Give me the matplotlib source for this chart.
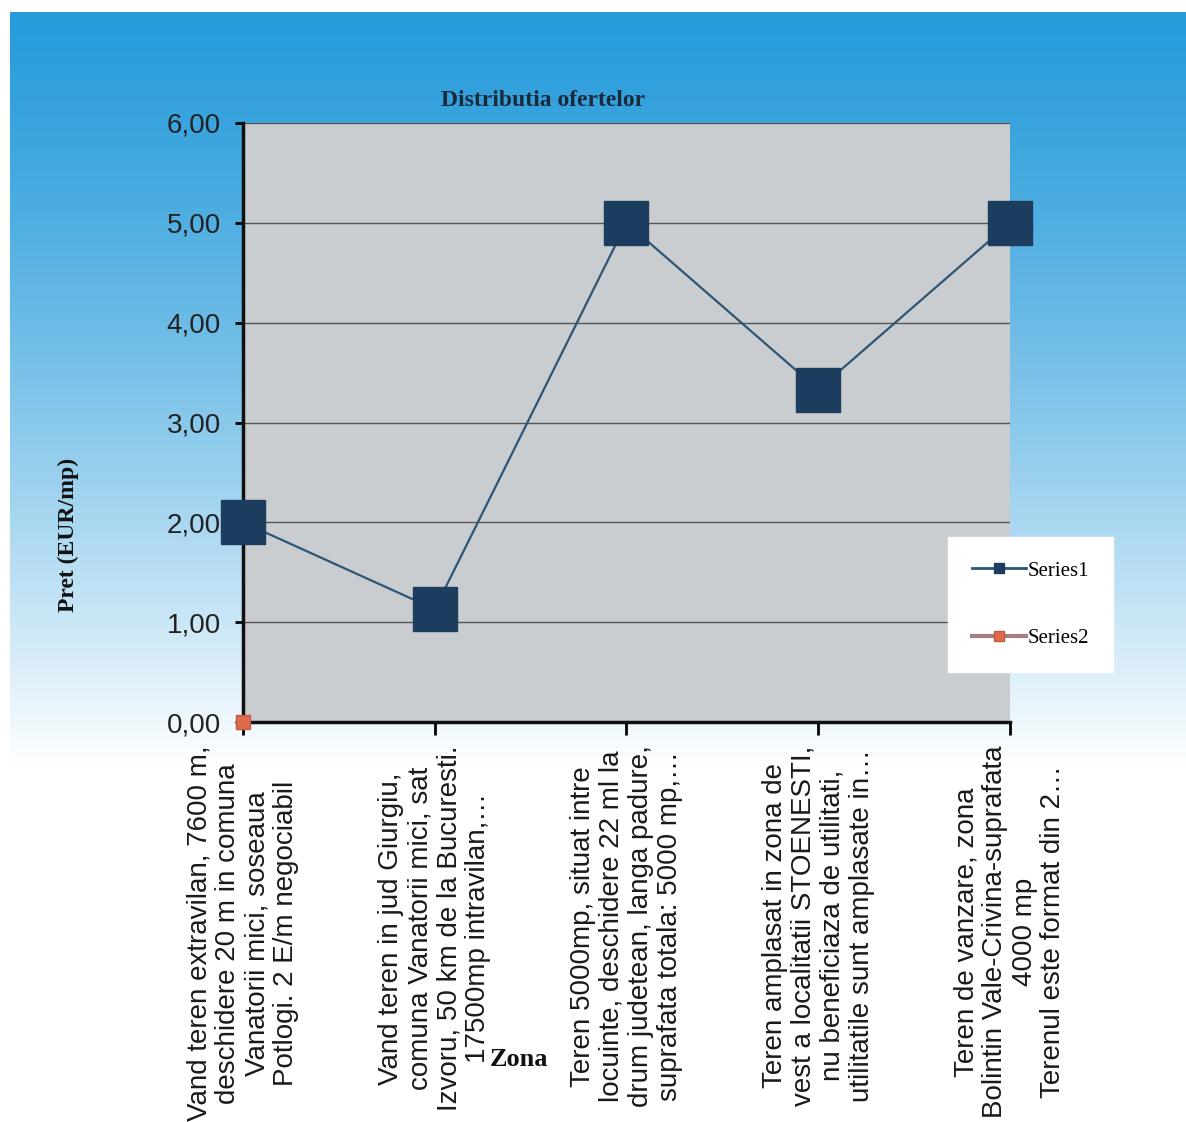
import numpy as np
import matplotlib
matplotlib.use("Agg")
import matplotlib.pyplot as plt
from matplotlib.lines import Line2D

# data
categories = [
    "Vand teren extravilan, 7600 m,\ndeschidere 20 m in comuna\nVanatorii mici, soseaua\nPotlogi. 2 E/m negociabil",
    "Vand teren in jud Giurgiu,\ncomuna Vanatorii mici, sat\nIzvoru, 50 km de la Bucuresti.\n17500mp intravilan,\u2026",
    "Teren 5000mp, situat intre\nlocuinte, deschidere 22 ml la\ndrum judetean, langa padure,\nsuprafata totala: 5000 mp,\u2026",
    "Teren amplasat in zona de\nvest a localitatii STOENESTI,\nnu beneficiaza de utilitati,\nutilitatile sunt amplasate in\u2026",
    "Teren de vanzare, zona\nBolintin Vale-Crivina-suprafata\n4000 mp\nTerenul este format din 2\u2026",
]
series1 = [2.00, 1.13, 5.00, 3.33, 5.00]
series2 = [0.00]
yticks = [0, 1, 2, 3, 4, 5, 6]
ytick_labels = ["0,00", "1,00", "2,00", "3,00", "4,00", "5,00", "6,00"]

W, H = 1186, 1122
fig = plt.figure(figsize=(W / 100, H / 100), dpi=100)
fig.patch.set_facecolor("white")

# gradient background (blue at top fading to white)
bg = fig.add_axes([10 / W, 0, 1 - 10 / W, 1 - 12 / H], zorder=-10)
bg.set_axis_off()
n = 400
t = np.linspace(0, 1, n)[:, None]
top = np.array([40, 156, 219]) / 255.0
white = np.array([1.0, 1.0, 1.0])
frac = np.clip(t / 0.68, 0, 1) ** 1.3
img = top[None, None, :] * (1 - frac[..., None]) + white[None, None, :] * frac[..., None]
img = np.repeat(img, 4, axis=1)
bg.imshow(img, aspect="auto", extent=[0, 1, 0, 1], origin="upper")

ax = fig.add_axes([243 / W, 1 - 722 / H, (1010 - 243) / W, (722 - 123) / H])
ax.set_facecolor("#c9cdcf")

x = np.arange(len(series1))
ax.plot(x, series1, color="#2d5676", lw=1.6, marker="s", markersize=31,
        markerfacecolor="#1c3d5e", markeredgecolor="#1c3d5e", zorder=3, clip_on=False)
ax.plot(np.arange(len(series2)), series2, color="#b07070", lw=1.5, marker="s", markersize=10,
        markerfacecolor="#e06a4c", markeredgecolor="#c05a40", zorder=4, clip_on=False)

ax.set_xlim(0, len(series1) - 1)
ax.set_ylim(0, 6)
ax.set_yticks(yticks)
ax.set_yticklabels(ytick_labels, fontsize=20, family="Liberation Sans", color="#222222")
ax.set_xticks(x)
ax.set_xticklabels(categories, rotation=90, fontsize=20, family="Liberation Sans",
                   color="#1a1a1a", linespacing=1.15)
ax.tick_params(axis="y", length=6, width=2, pad=10)
ax.tick_params(axis="x", length=9, width=2, pad=8)
ax.grid(axis="y", color="#555555", lw=1.0)
ax.set_axisbelow(True)
for s in ["top", "right"]:
    ax.spines[s].set_visible(False)
for s in ["left", "bottom"]:
    ax.spines[s].set_linewidth(2.5)
    ax.spines[s].set_color("#111111")

fig.text(543 / W, 1 - 100 / H, "Distributia ofertelor", ha="center", va="center",
         fontsize=17, fontweight="bold", family="Liberation Serif", color="#1a2a3a")
fig.text(68 / W, 1 - 535 / H, "Pret (EUR/mp)", ha="center", va="center", rotation=90,
         fontsize=17, fontweight="bold", family="Liberation Serif", color="#111111")
fig.text(519 / W, 1 - 1060 / H, "Zona", ha="center", va="center",
         fontsize=19, fontweight="bold", family="Liberation Serif", color="#111111")

handles = [
    Line2D([], [], color="#2d5676", lw=2, marker="s", markersize=7,
           markerfacecolor="#1c3d5e", markeredgecolor="#1c3d5e"),
    Line2D([], [], color="#a08080", lw=3, marker="s", markersize=7,
           markerfacecolor="#e06a4c", markeredgecolor="#c05a40"),
]
leg = fig.legend(handles, ["Series1", "Series2"], loc="upper left",
                 bbox_to_anchor=(948 / W, 1 - 537 / H), frameon=True, fancybox=False,
                 prop={"family": "Liberation Serif", "size": 15}, labelspacing=2.3,
                 handlelength=2.6, handletextpad=0.05, borderpad=1.15, borderaxespad=0)
leg.get_frame().set_facecolor("white")
leg.get_frame().set_edgecolor("white")
leg.get_frame().set_alpha(1.0)

fig.savefig("out.png", dpi=100)
